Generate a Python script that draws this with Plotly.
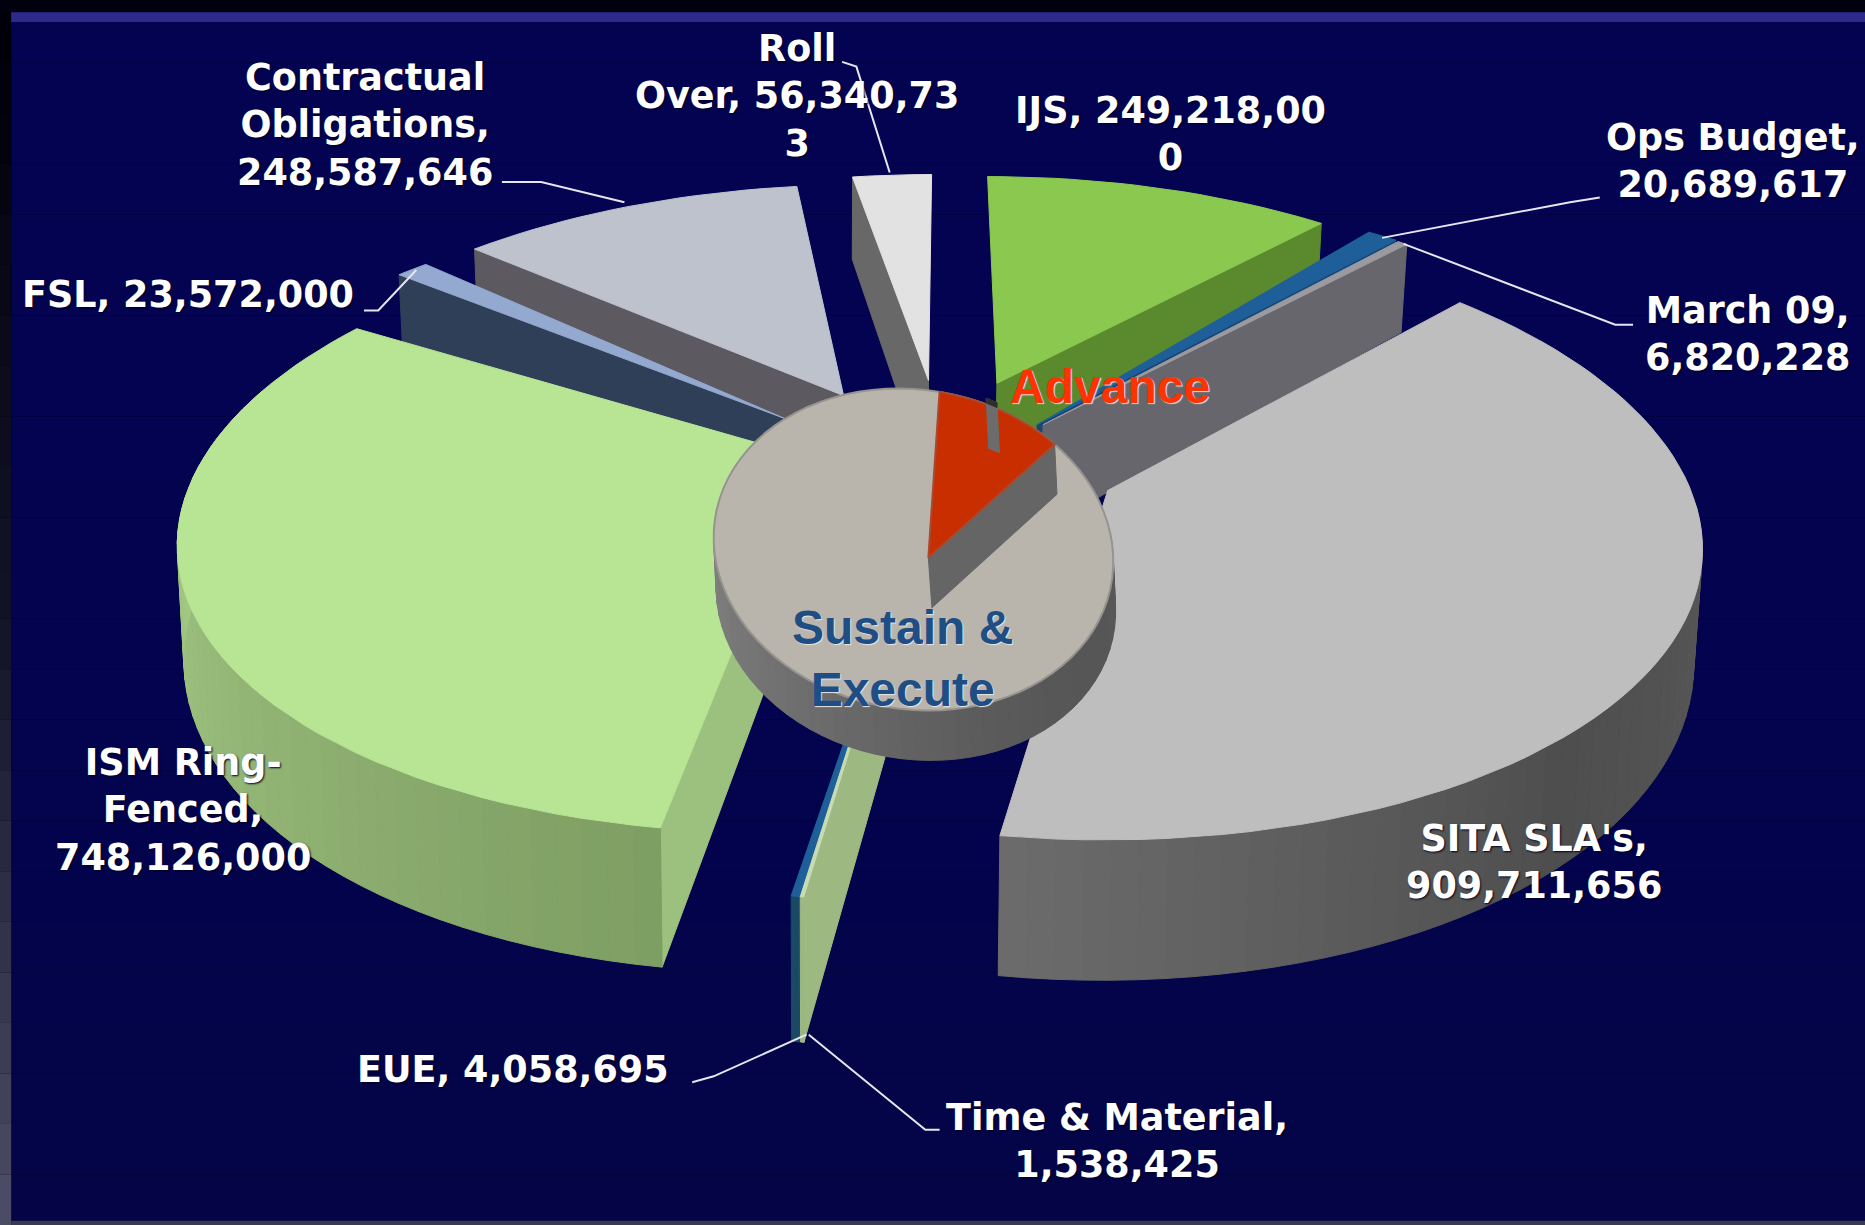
import math
import plotly.graph_objects as go

# ---- data ----
categories = ["IJS", "Ops Budget", "March 09", "SITA SLA's", "Time & Material", "EUE",
              "ISM Ring-Fenced", "FSL", "Contractual Obligations", "Roll Over"]
values = [249218000, 20689617, 6820228, 909711656, 1538425, 4058695,
          748126000, 23572000, 248587646, 56340733]
inner_categories = ["Sustain & Execute", "Advance"]
inner_values = [89.6, 10.4]

# ---- styling ----
off_x = [0.09, 0.155, 0.165, 0.20, -0.028, -0.028, -0.222, -0.27, -0.177, -0.03]
off_y = [0.188, 0.03, 0.03, -0.105, -0.227, -0.227, -0.09, 0.05, 0.14, 0.20]
radius = [1, 1.10, 1.09, 1, 1, 1, 1, 1, 1, 1]
trim_start = [0, 0, 0, 6.5, 0, 0, -1.2, 0, -1, -0.8]
trim_end = [3, 0, 0, -0.7, 0, 0, -7.5, 0, 1, 0]
apex_override = {3: (0.26, -0.2)}
top_color = ["#8BC84F", "#1F5F99", "#9A9AA0", "#BEBEBE", "#C8DCB4", "#1F5F99",
             "#B8E594", "#93A9D0", "#BEC2CC", "#E2E2E2"]
edge_color = ["#5B8A2E", "#174673", "#66666C", "#6A6A6A", "#9DB981", "#1A4A68",
              "#9CC07E", "#2F3F58", "#5C5A60", "#686868"]
rim_stops = {
    0: ["#6E9E3E", "#6E9E3E"], 3: ["#707070", "#5A5A5A", "#4E4E4E", "#6C6C6C"],
    6: ["#7E9E63", "#9ABE7C", "#B4DE92"], 7: ["#2F3F58", "#2F3F58"],
    8: ["#5C5A60", "#5C5A60"], 9: ["#707070", "#707070"],
}
draw_order = [9, 8, 0, 7, 1, 2, 3, 6, 5, 4]

W, H = 1568, 1030
CX, CY, R, T, K, DEPTH, LEAN = 795, 364, 500, 231, 0.23, 88, 0.01
START = 0.0


def proj(X, Y, z=0.0):
    s = 1.0 / (1.0 + K * Y)
    x = CX + R * X * s
    return x + (700 - x) * LEAN * z, CY + (-T * Y + DEPTH * z) * s


def hex2rgb(c):
    return [int(c[i:i + 2], 16) for i in (1, 3, 5)]


def mix(stops, t):
    if len(stops) == 1:
        return stops[0]
    p = t * (len(stops) - 1)
    i = min(int(p), len(stops) - 2)
    a, b = hex2rgb(stops[i]), hex2rgb(stops[i + 1])
    f = p - i
    return "rgb(%d,%d,%d)" % tuple(round(a[j] + (b[j] - a[j]) * f) for j in range(3))


fig = go.Figure()


def poly(pts, color, line=None, lw=1):
    fig.add_trace(go.Scatter(
        x=[p[0] for p in pts] + [pts[0][0]], y=[p[1] for p in pts] + [pts[0][1]],
        mode="lines", fill="toself", fillcolor=color,
        line=dict(color=line or color, width=lw), hoverinfo="skip", showlegend=False))


total = sum(values)
angles = []
a = START
for idx, v in enumerate(values):
    b = a + 360.0 * v / total
    angles.append((a + trim_start[idx], b + trim_end[idx]))
    a = b


def draw_slice(i):
    a, b = angles[i]
    ra, rb = math.radians(a), math.radians(b)
    ox, oy = off_x[i], off_y[i]
    ax, ay = apex_override.get(i, (ox, oy))
    r = radius[i]
    n = max(2, int((b - a) / 2))
    arc = [ra + (rb - ra) * j / n for j in range(n + 1)]
    rim = [(ox + r * math.sin(t), oy + r * math.cos(t)) for t in arc]
    # radial walls facing the viewer only
    if math.sin(ra) < 0:
        X, Y = rim[0]
        poly([proj(ax, ay), proj(X, Y), proj(X, Y, 1), proj(ax, ay, 1)], edge_color[i])
    if math.sin(rb) > 0:
        X, Y = rim[-1]
        poly([proj(ax, ay), proj(X, Y), proj(X, Y, 1), proj(ax, ay, 1)], edge_color[i])
    # outer wall facets
    stops = rim_stops.get(i, [edge_color[i]])
    for j in range(n):
        if math.cos((arc[j] + arc[j + 1]) / 2) < 0.25:
            c = mix(stops, (j + 0.5) / n)
            p, q = rim[j], rim[j + 1]
            poly([proj(*p), proj(*q), proj(q[0], q[1], 1), proj(p[0], p[1], 1)], c)
    # top
    poly([proj(ax, ay)] + [proj(*p) for p in rim], top_color[i])


for i in draw_order:
    draw_slice(i)

# ---- inner pie ----
ICX, ICY, IRX, IRY, IDEP, SHEAR = 768, 462, 168, 135, 42, 0.06
IAPEX = (780.5, 469)
ISTART = 7.5


def ipt(t):
    x = ICX + IRX * math.sin(t)
    y = ICY - IRY * math.cos(t) + SHEAR * (x - ICX)
    return x, y


N = 90
circle = [2 * math.pi * j / N for j in range(N)]
for j in range(N):
    t0, t1 = circle[j], circle[j] + 2 * math.pi / N
    if math.cos((t0 + t1) / 2) < 0.2:
        c = mix(["#808080", "#565656"], 0.5 + 0.5 * math.sin((t0 + t1) / 2 * -1 + 3.6))
        p, q = ipt(t0), ipt(t1)
        poly([p, q, (q[0] + 2, q[1] + IDEP), (p[0] + 2, p[1] + IDEP)], c)
poly([ipt(t) for t in circle], "#B9B5AC", line="#96948E", lw=2)

adv = 360.0 * inner_values[1] / sum(inner_values)
ta, tb = math.radians(ISTART), math.radians(ISTART + adv)
pa, pb = ipt(ta), ipt(tb)
poly([IAPEX, pb, (pb[0] + 2, pb[1] + IDEP), (IAPEX[0] + 3, IAPEX[1] + IDEP)], "#656565")
arc = [ta + (tb - ta) * j / 12 for j in range(13)]
poly([IAPEX] + [ipt(t) for t in arc], "#C82E00", line="#A84A30", lw=2)
# notch in the Advance wedge
tn0, tn1 = math.radians(ISTART + adv * 0.37), math.radians(ISTART + adv * 0.46)
n0, n1 = ipt(tn0), ipt(tn1)
n0, n1 = (n0[0], n0[1] - 5), (n1[0], n1[1] - 5)
poly([n0, n1, (n1[0] + 2, n1[1] + IDEP), (n0[0] + 2, n0[1] + IDEP)], "#6C6C6C")
poly([n0, n1, (n1[0], n1[1] + 4), (n0[0], n0[1] + 4)], "#2E2E2E")

# ---- labels ----
lab_font = dict(family="DejaVu Sans", size=36.5, color="white", weight="bold", shadow="1px 1px 2px #000020")
labels = [
    (307, 105, "Contractual<br>Obligations,<br>248,587,646"),
    (670, 81, "Roll<br>Over, 56,340,73<br>3"),
    (984, 113, "IJS, 249,218,00<br>0"),
    (1457, 135, "Ops Budget,<br>20,689,617"),
    (1470, 281, "March 09,<br>6,820,228"),
    (158, 248, "FSL, 23,572,000"),
    (154, 681, "ISM Ring-<br>Fenced,<br>748,126,000"),
    (1290, 725, "SITA SLA's,<br>909,711,656"),
    (431, 899, "EUE, 4,058,695"),
    (939, 959, "Time & Material,<br>1,538,425"),
]
ann = [dict(x=x, y=y, text=t, showarrow=False, font=lab_font, align="center",
            xanchor="center", yanchor="middle") for x, y, t in labels]
ann.append(dict(x=933, y=325, text="Advance", showarrow=False, xanchor="center", yanchor="middle",
                font=dict(family="Liberation Sans", size=48, color="#FF3300", weight="bold",
                          shadow="1px 1px 1px #E8E8E8")))
ann.append(dict(x=759, y=554, text="Sustain &<br>Execute", showarrow=False, xanchor="center",
                yanchor="middle", align="center",
                font=dict(family="Liberation Sans", size=48, color="#1F4E85", weight="bold",
                          shadow="1px 1px 1px #E8E8E8")))

leaders = [
    "M422,153 L455,153 L525,170", "M708,52 L720,56 L748,145", "M1345,166 L1320,170 L1162,200",
    "M1373,273 L1358,273 L1180,205", "M306,261 L318,261 L350,227", "M582,910 L600,905 L678,870",
    "M790,950 L778,950 L680,870",
]
shapes = []
BANDS = 24
for j in range(BANDS):
    t = j / BANDS
    y0, y1 = 0.99 * (1 - t), 0.99 * (1 - (j + 1) / BANDS)
    shapes.append(dict(type="rect", xref="paper", yref="paper", x0=0.006, x1=1, y0=y1, y1=y0,
                       fillcolor=mix(["#030352", "#030350", "#040446"], t), line_width=0, layer="below"))
    shapes.append(dict(type="rect", xref="paper", yref="paper", x0=0, x1=0.006, y0=y1, y1=y0,
                       fillcolor=mix(["#00000A", "#14142A", "#50506A"], t), line_width=0, layer="below"))
shapes.append(dict(type="rect", xref="paper", yref="paper", x0=0.006, x1=1, y0=0.982, y1=0.99,
                   fillcolor="#2E2A8C", line_width=0, layer="below"))
shapes.append(dict(type="rect", xref="paper", yref="paper", x0=0.006, x1=1, y0=0, y1=0.0035,
                   fillcolor="#3A3A50", line_width=0, layer="below"))
shapes += [dict(type="path", path=p, line=dict(color="#E6E6F0", width=2)) for p in leaders]

fig.update_layout(
    width=1865, height=1225, margin=dict(l=0, r=0, t=0, b=0), autosize=False,
    paper_bgcolor="#00000E", plot_bgcolor="rgba(0,0,0,0)",
    xaxis=dict(range=[0, W], visible=False, fixedrange=True),
    yaxis=dict(range=[H, 0], visible=False, fixedrange=True),
    annotations=ann, shapes=shapes, showlegend=False,
)
fig.write_html("out.html", post_script="document.body.style.margin='0';",
               config={"displayModeBar": False})
